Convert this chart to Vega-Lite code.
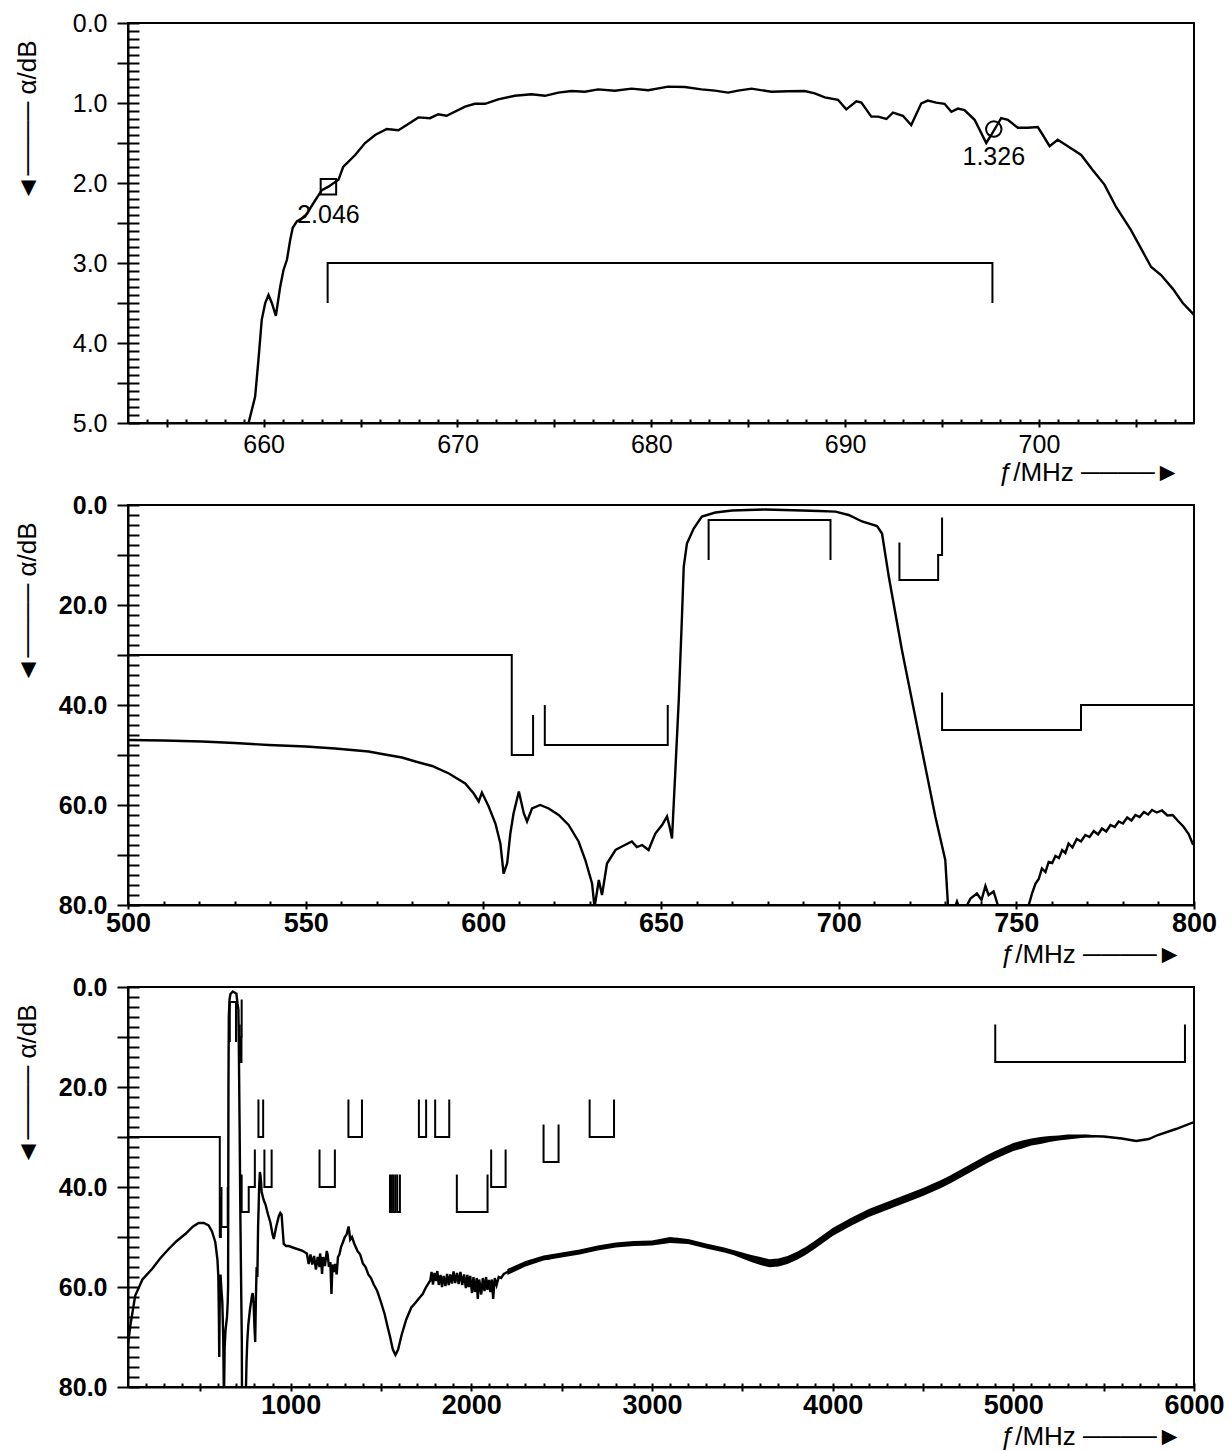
{
"$schema": "https://vega.github.io/schema/vega-lite/v6.json",
"padding": {"left": 12, "top": 10, "right": 8, "bottom": 0},
"background": "white",
"spacing": 82,
"bounds": "flush",
"config": {
  "view": {"stroke": "black", "strokeWidth": 2},
  "axis": {"grid": false, "labelFlush": false, "labelOverlap": false, "domainColor": "black", "tickColor": "black", "labelColor": "black", "titleColor": "black", "labelFont": "Liberation Sans", "titleFont": "Liberation Sans", "titleFontWeight": "normal", "tickWidth": 2, "domainWidth": 2}
},
"datasets": {
  "p1": [{"f":658.9,"a":5.6},{"f":659.22,"a":5.0},{"f":659.56,"a":4.67},{"f":659.73,"a":4.21},{"f":659.9,"a":3.71},{"f":660.08,"a":3.5},{"f":660.25,"a":3.4},{"f":660.42,"a":3.5},{"f":660.63,"a":3.66},{"f":660.85,"a":3.3},{"f":661.02,"a":3.09},{"f":661.2,"a":2.96},{"f":661.37,"a":2.71},{"f":661.5,"a":2.56},{"f":661.71,"a":2.48},{"f":662.14,"a":2.42},{"f":662.57,"a":2.25},{"f":663.0,"a":2.09},{"f":663.34,"a":2.046},{"f":663.86,"a":1.96},{"f":664.1,"a":1.8},{"f":664.72,"a":1.65},{"f":665.23,"a":1.5},{"f":665.75,"a":1.4},{"f":666.35,"a":1.325},{"f":666.95,"a":1.34},{"f":667.38,"a":1.275},{"f":667.98,"a":1.18},{"f":668.58,"a":1.19},{"f":669.01,"a":1.14},{"f":669.44,"a":1.16},{"f":670.39,"a":1.045},{"f":670.9,"a":1.01},{"f":671.42,"a":1.01},{"f":672.1,"a":0.954},{"f":672.96,"a":0.91},{"f":673.82,"a":0.89},{"f":674.51,"a":0.91},{"f":675.2,"a":0.87},{"f":675.89,"a":0.85},{"f":676.57,"a":0.86},{"f":677.26,"a":0.83},{"f":678.12,"a":0.846},{"f":678.98,"a":0.82},{"f":679.84,"a":0.84},{"f":680.87,"a":0.795},{"f":681.73,"a":0.8},{"f":682.59,"a":0.83},{"f":683.28,"a":0.846},{"f":683.96,"a":0.87},{"f":684.48,"a":0.846},{"f":685.17,"a":0.82},{"f":686.2,"a":0.86},{"f":687.06,"a":0.854},{"f":687.92,"a":0.85},{"f":688.43,"a":0.88},{"f":688.95,"a":0.93},{"f":689.63,"a":0.96},{"f":690.06,"a":1.08},{"f":690.58,"a":0.98},{"f":690.84,"a":0.995},{"f":691.35,"a":1.17},{"f":691.7,"a":1.17},{"f":692.13,"a":1.2},{"f":692.47,"a":1.12},{"f":692.98,"a":1.16},{"f":693.41,"a":1.275},{"f":693.93,"a":1.004},{"f":694.27,"a":0.97},{"f":694.7,"a":0.996},{"f":695.13,"a":1.01},{"f":695.48,"a":1.11},{"f":695.82,"a":1.07},{"f":696.16,"a":1.09},{"f":696.68,"a":1.21},{"f":697.28,"a":1.5},{"f":697.54,"a":1.4},{"f":698.05,"a":1.19},{"f":698.4,"a":1.21},{"f":698.91,"a":1.31},{"f":699.43,"a":1.31},{"f":699.94,"a":1.3},{"f":700.2,"a":1.4},{"f":700.55,"a":1.54},{"f":700.97,"a":1.46},{"f":701.49,"a":1.54},{"f":702.18,"a":1.65},{"f":702.78,"a":1.84},{"f":703.38,"a":2.02},{"f":703.98,"a":2.3},{"f":704.75,"a":2.59},{"f":705.79,"a":3.05},{"f":706.3,"a":3.15},{"f":706.9,"a":3.32},{"f":707.42,"a":3.5},{"f":707.93,"a":3.63},{"f":708.0,"a":3.65}],
  "m1": [{"s":"A","i":0,"f":663.3,"a":3.5},{"s":"A","i":1,"f":663.3,"a":3.0},{"s":"A","i":2,"f":697.6,"a":3.0},{"s":"A","i":3,"f":697.6,"a":3.5}],
  "pts": [{"f":663.34,"a":2.046,"edge":"lower","t":"2.046"},{"f":697.67,"a":1.326,"edge":"upper","t":"1.326"}],
  "p2": [{"f":500,"a":47.0},{"f":510,"a":47.1},{"f":520.8,"a":47.3},{"f":530,"a":47.6},{"f":539.6,"a":48.0},{"f":550,"a":48.3},{"f":558.3,"a":48.7},{"f":567.7,"a":49.3},{"f":571.5,"a":49.8},{"f":577.1,"a":50.5},{"f":580.9,"a":51.3},{"f":585.6,"a":52.2},{"f":590.3,"a":53.7},{"f":594.9,"a":55.7},{"f":597.3,"a":57.7},{"f":598.7,"a":59.3},{"f":599.6,"a":57.5},{"f":601.5,"a":60.3},{"f":603.4,"a":63.7},{"f":604.8,"a":67.7},{"f":605.7,"a":73.7},{"f":606.7,"a":71.7},{"f":607.6,"a":65.7},{"f":608.5,"a":61.7},{"f":610.0,"a":57.3},{"f":611.4,"a":61.7},{"f":612.3,"a":63.3},{"f":613.7,"a":60.7},{"f":616.0,"a":60.0},{"f":618.4,"a":60.7},{"f":621.2,"a":62},{"f":624,"a":64},{"f":626.8,"a":67.3},{"f":628.7,"a":71},{"f":630.6,"a":75.7},{"f":631.3,"a":80.5},{"f":632.5,"a":75},{"f":633.4,"a":78},{"f":634.8,"a":71.7},{"f":637.2,"a":69},{"f":639,"a":68.3},{"f":641.8,"a":67.3},{"f":643.2,"a":68.4},{"f":644.7,"a":68},{"f":646.5,"a":69},{"f":648.4,"a":65.7},{"f":650.3,"a":64},{"f":651.7,"a":62.3},{"f":652.4,"a":64.3},{"f":653.1,"a":66.7},{"f":654.0,"a":53.7},{"f":655.0,"a":39},{"f":655.9,"a":22.3},{"f":656.4,"a":12.3},{"f":657.3,"a":7.7},{"f":659.2,"a":4.7},{"f":661.5,"a":2.3},{"f":665.3,"a":1.5},{"f":670,"a":1.1},{"f":679.4,"a":0.9},{"f":689.7,"a":1.1},{"f":694.4,"a":1.2},{"f":699.1,"a":1.33},{"f":702.8,"a":2},{"f":706.6,"a":3.3},{"f":710.8,"a":4.2},{"f":712.2,"a":5.7},{"f":714.1,"a":14.3},{"f":717.8,"a":29},{"f":722.5,"a":45.7},{"f":727.2,"a":62.3},{"f":730.0,"a":71},{"f":730.8,"a":80.5},{"f":732.0,"a":82},{"f":733.3,"a":79.3},{"f":734.7,"a":82},{"f":737.1,"a":78.7},{"f":738.9,"a":77.7},{"f":740.2,"a":79},{"f":741.3,"a":76.2},{"f":742.2,"a":78},{"f":743.6,"a":77.3},{"f":745,"a":80.5},{"f":746,"a":83},{"f":753.0,"a":83},{"f":753.5,"a":80},{"f":754.5,"a":77.5},{"f":755.4,"a":75.7},{"f":756.3,"a":74.8},{"f":757.2,"a":72.7},{"f":758.2,"a":73.4},{"f":759.1,"a":71.4},{"f":760.1,"a":71.6},{"f":761,"a":70.2},{"f":762,"a":70.6},{"f":762.9,"a":69},{"f":763.8,"a":69.6},{"f":764.7,"a":67.7},{"f":765.8,"a":68.5},{"f":767,"a":66.8},{"f":768.2,"a":67.3},{"f":769.4,"a":66},{"f":770.6,"a":66.4},{"f":771.8,"a":65.2},{"f":773,"a":65.9},{"f":774.1,"a":64.7},{"f":775.3,"a":65.3},{"f":776.5,"a":64},{"f":777.7,"a":64.4},{"f":778.8,"a":63.3},{"f":780,"a":63.7},{"f":781.2,"a":62.5},{"f":782.4,"a":63.1},{"f":783.5,"a":62},{"f":784.7,"a":62.4},{"f":785.9,"a":61.4},{"f":787.1,"a":61.9},{"f":788.2,"a":61},{"f":789.5,"a":61.5},{"f":791,"a":61.1},{"f":792.5,"a":62.1},{"f":794,"a":62},{"f":795.5,"a":63.2},{"f":797,"a":64.3},{"f":798.5,"a":65.8},{"f":799.6,"a":67.7},{"f":800,"a":68}],
  "m23": [
    {"s":"M1","i":0,"f":100,"a":30},{"s":"M1","i":1,"f":608,"a":30},{"s":"M1","i":2,"f":608,"a":50},{"s":"M1","i":3,"f":614,"a":50},{"s":"M1","i":4,"f":614,"a":42},
    {"s":"M2","i":0,"f":617.3,"a":40},{"s":"M2","i":1,"f":617.3,"a":48},{"s":"M2","i":2,"f":651.9,"a":48},{"s":"M2","i":3,"f":651.9,"a":40},
    {"s":"M3","i":0,"f":663.4,"a":11},{"s":"M3","i":1,"f":663.4,"a":3},{"s":"M3","i":2,"f":697.7,"a":3},{"s":"M3","i":3,"f":697.7,"a":11},
    {"s":"M4","i":0,"f":717.1,"a":7.5},{"s":"M4","i":1,"f":717.1,"a":15},{"s":"M4","i":2,"f":728,"a":15},{"s":"M4","i":3,"f":728,"a":10},{"s":"M4","i":4,"f":729.1,"a":10},{"s":"M4","i":5,"f":729.1,"a":2.5},
    {"s":"M5","i":0,"f":729.1,"a":37.5},{"s":"M5","i":1,"f":729.1,"a":45},{"s":"M5","i":2,"f":768.2,"a":45},{"s":"M5","i":3,"f":768.2,"a":40},{"s":"M5","i":4,"f":802,"a":40},{"s":"M5","i":5,"f":802,"a":32.5},
    {"s":"M6","i":0,"f":822,"a":22.5},{"s":"M6","i":1,"f":822,"a":30},{"s":"M6","i":2,"f":848,"a":30},{"s":"M6","i":3,"f":848,"a":22.5},
    {"s":"M7","i":0,"f":855,"a":32.5},{"s":"M7","i":1,"f":855,"a":40},{"s":"M7","i":2,"f":895,"a":40},{"s":"M7","i":3,"f":895,"a":32.5},
    {"s":"M8","i":0,"f":1160,"a":32.5},{"s":"M8","i":1,"f":1160,"a":40},{"s":"M8","i":2,"f":1245,"a":40},{"s":"M8","i":3,"f":1245,"a":32.5},
    {"s":"M9","i":0,"f":1320,"a":22.5},{"s":"M9","i":1,"f":1320,"a":30},{"s":"M9","i":2,"f":1395,"a":30},{"s":"M9","i":3,"f":1395,"a":22.5},
    {"s":"M10a","i":0,"f":1550,"a":37.5},{"s":"M10a","i":1,"f":1550,"a":45},{"s":"M10a","i":2,"f":1560,"a":45},{"s":"M10a","i":3,"f":1560,"a":37.5},
    {"s":"M10b","i":0,"f":1568,"a":37.5},{"s":"M10b","i":1,"f":1568,"a":45},{"s":"M10b","i":2,"f":1580,"a":45},{"s":"M10b","i":3,"f":1580,"a":37.5},
    {"s":"M10c","i":0,"f":1590,"a":37.5},{"s":"M10c","i":1,"f":1590,"a":45},{"s":"M10c","i":2,"f":1605,"a":45},{"s":"M10c","i":3,"f":1605,"a":37.5},
    {"s":"M11a","i":0,"f":1710,"a":22.5},{"s":"M11a","i":1,"f":1710,"a":30},{"s":"M11a","i":2,"f":1750,"a":30},{"s":"M11a","i":3,"f":1750,"a":22.5},
    {"s":"M11b","i":0,"f":1800,"a":22.5},{"s":"M11b","i":1,"f":1800,"a":30},{"s":"M11b","i":2,"f":1878,"a":30},{"s":"M11b","i":3,"f":1878,"a":22.5},
    {"s":"M12","i":0,"f":1920,"a":37.5},{"s":"M12","i":1,"f":1920,"a":45},{"s":"M12","i":2,"f":2090,"a":45},{"s":"M12","i":3,"f":2090,"a":37.5},
    {"s":"M13","i":0,"f":2110,"a":32.5},{"s":"M13","i":1,"f":2110,"a":40},{"s":"M13","i":2,"f":2190,"a":40},{"s":"M13","i":3,"f":2190,"a":32.5},
    {"s":"M14","i":0,"f":2400,"a":27.5},{"s":"M14","i":1,"f":2400,"a":35},{"s":"M14","i":2,"f":2483,"a":35},{"s":"M14","i":3,"f":2483,"a":27.5},
    {"s":"M15","i":0,"f":2655,"a":22.5},{"s":"M15","i":1,"f":2655,"a":30},{"s":"M15","i":2,"f":2790,"a":30},{"s":"M15","i":3,"f":2790,"a":22.5},
    {"s":"M16","i":0,"f":4900,"a":7.5},{"s":"M16","i":1,"f":4900,"a":15},{"s":"M16","i":2,"f":5950,"a":15},{"s":"M16","i":3,"f":5950,"a":7.5}
  ],
  "p3": [{"f":100,"a":71.5},{"f":113,"a":67.7},{"f":140,"a":61.7},{"f":180,"a":58.5},{"f":233,"a":56.4},{"f":280,"a":54.2},{"f":325,"a":52.4},{"f":370,"a":50.8},{"f":417,"a":49.4},{"f":460,"a":47.9},{"f":491,"a":47.2},{"f":520,"a":47.2},{"f":546,"a":47.7},{"f":565,"a":48.9},{"f":583,"a":51},{"f":595,"a":54.5},{"f":600,"a":58},{"f":603,"a":66},{"f":605,"a":74},{"f":607,"a":66},{"f":609,"a":59},{"f":612,"a":57.5},{"f":617,"a":60.5},{"f":622,"a":63},{"f":627,"a":70},{"f":631,"a":83},{"f":635,"a":72},{"f":640,"a":68.5},{"f":648,"a":66},{"f":652,"a":63},{"f":654,"a":60},{"f":656,"a":20},{"f":658,"a":6},{"f":662,"a":2.5},{"f":667,"a":1.4},{"f":680,"a":0.9},{"f":694,"a":1.2},{"f":700,"a":1.3},{"f":706,"a":3.3},{"f":711,"a":4.5},{"f":714,"a":14},{"f":718,"a":29},{"f":722,"a":46},{"f":727,"a":62},{"f":730,"a":71},{"f":731,"a":83},{"f":745,"a":83},{"f":753,"a":80},{"f":756,"a":75},{"f":760,"a":71},{"f":766,"a":67.5},{"f":775,"a":64.5},{"f":785,"a":62},{"f":790,"a":61.2},{"f":795,"a":63},{"f":800,"a":68},{"f":804,"a":71},{"f":808,"a":62},{"f":812,"a":56},{"f":816,"a":58},{"f":820,"a":48},{"f":826,"a":40},{"f":830,"a":37},{"f":834,"a":38},{"f":840,"a":41},{"f":850,"a":42.5},{"f":861,"a":43.5},{"f":875,"a":45.5},{"f":888,"a":47.1},{"f":900,"a":49.5},{"f":907,"a":50.4},{"f":920,"a":48},{"f":935,"a":45.8},{"f":943,"a":45.2},{"f":950,"a":45.5},{"f":955,"a":48},{"f":962,"a":51.4},{"f":975,"a":51.8},{"f":990,"a":51.8},{"f":1020,"a":52.2},{"f":1063,"a":52.7},{"f":1090,"a":53.3},{"f":1100,"a":55.4},{"f":1110,"a":53.5},{"f":1120,"a":55.5},{"f":1130,"a":53.8},{"f":1140,"a":56.5},{"f":1150,"a":54},{"f":1160,"a":56},{"f":1163,"a":53.3},{"f":1170,"a":55},{"f":1174,"a":57.4},{"f":1180,"a":54},{"f":1190,"a":55.8},{"f":1200,"a":52.8},{"f":1205,"a":53.5},{"f":1212,"a":56},{"f":1220,"a":55},{"f":1226,"a":61.4},{"f":1232,"a":55.5},{"f":1240,"a":57},{"f":1247,"a":55.4},{"f":1255,"a":57.5},{"f":1262,"a":54},{"f":1270,"a":53.5},{"f":1279,"a":52},{"f":1290,"a":51},{"f":1300,"a":50},{"f":1310,"a":49.5},{"f":1321,"a":47.9},{"f":1330,"a":50.5},{"f":1340,"a":50},{"f":1352,"a":51.3},{"f":1370,"a":52.8},{"f":1385,"a":53.5},{"f":1400,"a":55.3},{"f":1415,"a":56},{"f":1430,"a":57.5},{"f":1445,"a":58.2},{"f":1460,"a":59.5},{"f":1479,"a":60.75},{"f":1500,"a":63},{"f":1521,"a":65.5},{"f":1537,"a":68},{"f":1552,"a":70.2},{"f":1565,"a":72.4},{"f":1580,"a":73.6},{"f":1595,"a":72.5},{"f":1615,"a":69.5},{"f":1640,"a":66.5},{"f":1668,"a":64.1},{"f":1690,"a":63.2},{"f":1710,"a":62.3},{"f":1731,"a":61.4},{"f":1750,"a":60},{"f":1773,"a":58.7},{"f":1780,"a":57},{"f":1788,"a":59.5},{"f":1796,"a":57.2},{"f":1805,"a":58.8},{"f":1812,"a":56.8},{"f":1820,"a":59.6},{"f":1830,"a":57.6},{"f":1838,"a":60},{"f":1847,"a":57.8},{"f":1857,"a":59.8},{"f":1866,"a":57.4},{"f":1875,"a":59.6},{"f":1884,"a":57.5},{"f":1893,"a":59.3},{"f":1902,"a":56.9},{"f":1911,"a":59.2},{"f":1921,"a":57.2},{"f":1930,"a":59.4},{"f":1940,"a":57},{"f":1950,"a":59.6},{"f":1960,"a":57.5},{"f":1970,"a":60.2},{"f":1978,"a":57.6},{"f":1986,"a":60},{"f":1994,"a":57.8},{"f":2004,"a":61.2},{"f":2012,"a":58},{"f":2020,"a":61},{"f":2030,"a":58.2},{"f":2036,"a":62.4},{"f":2044,"a":58.5},{"f":2055,"a":61.5},{"f":2064,"a":58.2},{"f":2073,"a":60.8},{"f":2082,"a":58},{"f":2089,"a":60.6},{"f":2098,"a":58.6},{"f":2106,"a":61},{"f":2114,"a":58.5},{"f":2121,"a":62.4},{"f":2130,"a":58.2},{"f":2140,"a":59.6},{"f":2152,"a":58},{"f":2165,"a":58.2},{"f":2180,"a":57.4},{"f":2200,"a":57},{"f":2215,"a":56.7},{"f":2240,"a":56.2},{"f":2270,"a":55.7},{"f":2300,"a":55.35},{"f":2330,"a":54.8},{"f":2363,"a":54.7},{"f":2400,"a":54.2},{"f":2430,"a":54.3},{"f":2460,"a":53.8},{"f":2489,"a":53.7},{"f":2520,"a":53.5},{"f":2560,"a":53.2},{"f":2594,"a":53},{"f":2640,"a":52.6},{"f":2680,"a":52.4},{"f":2720,"a":52},{"f":2760,"a":51.9},{"f":2805,"a":51.6},{"f":2860,"a":51.5},{"f":2910,"a":51.3},{"f":2960,"a":51.4},{"f":3015,"a":51.2},{"f":3060,"a":50.9},{"f":3100,"a":50.6},{"f":3140,"a":50.4},{"f":3184,"a":50.8},{"f":3230,"a":51.2},{"f":3268,"a":51.6},{"f":3320,"a":52},{"f":3370,"a":52.3},{"f":3420,"a":52.8},{"f":3470,"a":53.3},{"f":3500,"a":53.7},{"f":3550,"a":54.3},{"f":3600,"a":54.8},{"f":3650,"a":55.25},{"f":3700,"a":55.1},{"f":3750,"a":54.6},{"f":3800,"a":53.8},{"f":3850,"a":52.8},{"f":3900,"a":51.6},{"f":3950,"a":50.3},{"f":4000,"a":49.0},{"f":4050,"a":48.0},{"f":4100,"a":47.0},{"f":4150,"a":46.1},{"f":4200,"a":45.2},{"f":4250,"a":44.5},{"f":4300,"a":43.8},{"f":4350,"a":43.1},{"f":4400,"a":42.4},{"f":4450,"a":41.7},{"f":4500,"a":41.0},{"f":4550,"a":40.2},{"f":4600,"a":39.4},{"f":4650,"a":38.5},{"f":4700,"a":37.5},{"f":4750,"a":36.5},{"f":4800,"a":35.5},{"f":4850,"a":34.5},{"f":4900,"a":33.6},{"f":4950,"a":32.8},{"f":5000,"a":32.0},{"f":5050,"a":31.5},{"f":5100,"a":31.0},{"f":5150,"a":30.7},{"f":5200,"a":30.4},{"f":5250,"a":30.2},{"f":5300,"a":30.0},{"f":5350,"a":29.9},{"f":5400,"a":29.8},{"f":5450,"a":29.85},{"f":5500,"a":29.9},{"f":5600,"a":30.3},{"f":5680,"a":30.8},{"f":5750,"a":30.4},{"f":5800,"a":29.6},{"f":5900,"a":28.4},{"f":6000,"a":27}],
  "b3": [{"f":2200,"lo":56.4,"hi":57.6},{"f":2300,"lo":54.8,"hi":55.9},{"f":2400,"lo":53.7,"hi":54.7},{"f":2500,"lo":53.1,"hi":54.1},{"f":2600,"lo":52.5,"hi":53.5},{"f":2700,"lo":51.7,"hi":52.7},{"f":2800,"lo":51.1,"hi":52.1},{"f":2900,"lo":50.8,"hi":51.8},{"f":3000,"lo":50.7,"hi":51.7},{"f":3100,"lo":50.0,"hi":51.2},{"f":3200,"lo":50.4,"hi":51.4},{"f":3300,"lo":51.3,"hi":52.3},{"f":3400,"lo":52.1,"hi":53.1},{"f":3450,"lo":52.6,"hi":53.6},{"f":3500,"lo":53.1,"hi":54.3},{"f":3550,"lo":53.6,"hi":55.0},{"f":3600,"lo":54.0,"hi":55.6},{"f":3650,"lo":54.45,"hi":56.05},{"f":3700,"lo":54.3,"hi":55.9},{"f":3750,"lo":53.8,"hi":55.4},{"f":3800,"lo":53.0,"hi":54.6},{"f":3850,"lo":52.0,"hi":53.6},{"f":3900,"lo":50.8,"hi":52.4},{"f":3950,"lo":49.5,"hi":51.1},{"f":4000,"lo":48.2,"hi":49.8},{"f":4050,"lo":47.2,"hi":48.8},{"f":4100,"lo":46.2,"hi":47.8},{"f":4150,"lo":45.3,"hi":46.9},{"f":4200,"lo":44.4,"hi":46.0},{"f":4250,"lo":43.7,"hi":45.3},{"f":4300,"lo":43.0,"hi":44.6},{"f":4350,"lo":42.3,"hi":43.9},{"f":4400,"lo":41.6,"hi":43.2},{"f":4450,"lo":40.9,"hi":42.5},{"f":4500,"lo":40.2,"hi":41.8},{"f":4550,"lo":39.4,"hi":41.0},{"f":4600,"lo":38.6,"hi":40.2},{"f":4650,"lo":37.7,"hi":39.3},{"f":4700,"lo":36.7,"hi":38.3},{"f":4750,"lo":35.7,"hi":37.3},{"f":4800,"lo":34.7,"hi":36.3},{"f":4850,"lo":33.7,"hi":35.3},{"f":4900,"lo":32.8,"hi":34.4},{"f":4950,"lo":32.0,"hi":33.6},{"f":5000,"lo":31.2,"hi":32.8},{"f":5050,"lo":30.7,"hi":32.3},{"f":5100,"lo":30.3,"hi":31.7},{"f":5150,"lo":30.0,"hi":31.4},{"f":5200,"lo":29.8,"hi":31.0},{"f":5250,"lo":29.7,"hi":30.7},{"f":5300,"lo":29.5,"hi":30.5},{"f":5350,"lo":29.5,"hi":30.3},{"f":5400,"lo":29.5,"hi":30.1},{"f":5450,"lo":29.65,"hi":30.05}]
},
"vconcat": [
  {
    "width": 1066, "height": 400,
    "layer": [
      {
        "data": {"name": "p1"},
        "mark": {"type": "line", "stroke": "black", "strokeWidth": 2.4, "clip": true},
        "encoding": {
          "x": {"field": "f", "type": "quantitative", "scale": {"domain": [653, 708], "nice": false, "zero": false},
            "axis": {"orient": "bottom", "values": [655,660,665,670,675,680,685,690,695,700,705], "labelExpr": "datum.value % 10 == 0 ? format(datum.value, 'd') : ''", "tickSize": 4, "labelFontSize": 25, "labelPadding": 5, "title": "ƒ/MHz ────►", "titleFontSize": 26, "titleX": 1052, "titleY": 57, "titleAlign": "right", "titleBaseline": "alphabetic"}},
          "y": {"field": "a", "type": "quantitative", "scale": {"domain": [0, 5], "reverse": true, "nice": false, "zero": false},
            "axis": {"orient": "left", "values": [0,0.5,1,1.5,2,2.5,3,3.5,4,4.5,5], "labelExpr": "datum.value % 1 == 0 ? format(datum.value, '.1f') : ''", "tickSize": 11, "labelFontSize": 25, "labelPadding": 10, "title": "◄──── α/dB", "titleFontSize": 26, "titleAngle": -90, "titleX": -101, "titleY": 17, "titleAlign": "right", "titleBaseline": "middle"}}
        }
      },
      {
        "data": {"name": "m1"},
        "mark": {"type": "line", "stroke": "black", "strokeWidth": 2, "strokeJoin": "miter", "clip": true},
        "encoding": {
          "x": {"field": "f", "type": "quantitative", "scale": {"domain": [653, 708], "nice": false, "zero": false},
            "axis": {"orient": "bottom", "values": [654,655,656,657,658,659,660,661,662,663,664,665,666,667,668,669,670,671,672,673,674,675,676,677,678,679,680,681,682,683,684,685,686,687,688,689,690,691,692,693,694,695,696,697,698,699,700,701,702,703,704,705,706,707], "offset": -4, "tickSize": 4, "labels": false, "domain": false, "title": null}},
          "y": {"field": "a", "type": "quantitative", "scale": {"domain": [0, 5], "reverse": true, "nice": false, "zero": false},
            "axis": {"orient": "left", "values": [0,0.1,0.2,0.3,0.4,0.5,0.6,0.7,0.8,0.9,1,1.1,1.2,1.3,1.4,1.5,1.6,1.7,1.8,1.9,2,2.1,2.2,2.3,2.4,2.5,2.6,2.7,2.8,2.9,3,3.1,3.2,3.3,3.4,3.5,3.6,3.7,3.8,3.9,4,4.1,4.2,4.3,4.4,4.5,4.6,4.7,4.8,4.9,5], "offset": -11, "tickSize": 11, "labels": false, "domain": false, "title": null}},
          "detail": {"field": "s"},
          "order": {"field": "i"}
        }
      },
      {
        "data": {"name": "pts"},
        "mark": {"type": "point", "stroke": "black", "strokeWidth": 2, "filled": false, "size": 240, "opacity": 1},
        "encoding": {
          "x": {"field": "f", "type": "quantitative", "axis": null},
          "y": {"field": "a", "type": "quantitative", "axis": null},
          "shape": {"field": "edge", "type": "nominal", "scale": {"domain": ["lower", "upper"], "range": ["square", "circle"]}, "legend": null}
        }
      },
      {
        "data": {"name": "pts"},
        "mark": {"type": "text", "font": "Liberation Sans", "fontSize": 25, "align": "center", "baseline": "middle", "dy": 28, "color": "black"},
        "encoding": {
          "x": {"field": "f", "type": "quantitative", "axis": null},
          "y": {"field": "a", "type": "quantitative", "axis": null},
          "text": {"field": "t"}
        }
      }
    ],
    "resolve": {"axis": {"x": "independent", "y": "independent"}}
  },
  {
    "width": 1066, "height": 400,
    "layer": [
      {
        "data": {"name": "p2"},
        "mark": {"type": "line", "stroke": "black", "strokeWidth": 2.4, "clip": true},
        "encoding": {
          "x": {"field": "f", "type": "quantitative", "scale": {"domain": [500, 800], "nice": false, "zero": false},
            "axis": {"orient": "bottom", "values": [500,550,600,650,700,750,800], "format": "d", "tickSize": 4, "labelFontSize": 27, "labelFontWeight": "bold", "labelPadding": 1, "title": "ƒ/MHz ────►", "titleFontSize": 26, "titleX": 1054, "titleY": 57, "titleAlign": "right", "titleBaseline": "alphabetic"}},
          "y": {"field": "a", "type": "quantitative", "scale": {"domain": [0, 80], "reverse": true, "nice": false, "zero": false},
            "axis": {"orient": "left", "values": [0,10,20,30,40,50,60,70,80], "labelExpr": "datum.value % 20 == 0 ? format(datum.value, '.1f') : ''", "tickSize": 11, "labelFontSize": 25, "labelFontWeight": "bold", "labelPadding": 10, "title": "◄──── α/dB", "titleFontSize": 26, "titleAngle": -90, "titleX": -101, "titleY": 17, "titleAlign": "right", "titleBaseline": "middle"}}
        }
      },
      {
        "data": {"name": "m23"},
        "mark": {"type": "line", "stroke": "black", "strokeWidth": 2, "strokeJoin": "miter", "clip": true},
        "encoding": {
          "x": {"field": "f", "type": "quantitative", "scale": {"domain": [500, 800], "nice": false, "zero": false},
            "axis": {"orient": "bottom", "values": [500,510,520,530,540,550,560,570,580,590,600,610,620,630,640,650,660,670,680,690,700,710,720,730,740,750,760,770,780,790,800], "offset": -4, "tickSize": 4, "labels": false, "domain": false, "title": null}},
          "y": {"field": "a", "type": "quantitative", "scale": {"domain": [0, 80], "reverse": true, "nice": false, "zero": false},
            "axis": {"orient": "left", "values": [0,2,4,6,8,10,12,14,16,18,20,22,24,26,28,30,32,34,36,38,40,42,44,46,48,50,52,54,56,58,60,62,64,66,68,70,72,74,76,78,80], "offset": -11, "tickSize": 11, "labels": false, "domain": false, "title": null}},
          "detail": {"field": "s"},
          "order": {"field": "i"}
        }
      }
    ],
    "resolve": {"axis": {"x": "independent", "y": "independent"}}
  },
  {
    "width": 1066, "height": 400,
    "layer": [
      {
        "data": {"name": "p3"},
        "mark": {"type": "line", "stroke": "black", "strokeWidth": 2.4, "clip": true},
        "encoding": {
          "x": {"field": "f", "type": "quantitative", "scale": {"domain": [100, 6000], "nice": false, "zero": false},
            "axis": {"orient": "bottom", "values": [500,1000,1500,2000,2500,3000,3500,4000,4500,5000,5500,6000], "labelExpr": "datum.value % 1000 == 0 ? format(datum.value, 'd') : ''", "tickSize": 4, "labelFontSize": 27, "labelFontWeight": "bold", "labelPadding": 1, "title": "ƒ/MHz ────►", "titleFontSize": 26, "titleX": 1054, "titleY": 57, "titleAlign": "right", "titleBaseline": "alphabetic"}},
          "y": {"field": "a", "type": "quantitative", "scale": {"domain": [0, 80], "reverse": true, "nice": false, "zero": false},
            "axis": {"orient": "left", "values": [0,10,20,30,40,50,60,70,80], "labelExpr": "datum.value % 20 == 0 ? format(datum.value, '.1f') : ''", "tickSize": 11, "labelFontSize": 25, "labelFontWeight": "bold", "labelPadding": 10, "title": "◄──── α/dB", "titleFontSize": 26, "titleAngle": -90, "titleX": -101, "titleY": 17, "titleAlign": "right", "titleBaseline": "middle"}}
        }
      },
      {
        "data": {"name": "b3"},
        "mark": {"type": "area", "color": "black", "opacity": 1, "clip": true},
        "encoding": {
          "x": {"field": "f", "type": "quantitative", "axis": null},
          "y": {"field": "lo", "type": "quantitative", "axis": null},
          "y2": {"field": "hi"}
        }
      },
      {
        "data": {"name": "m23"},
        "mark": {"type": "line", "stroke": "black", "strokeWidth": 2, "strokeJoin": "miter", "clip": true},
        "encoding": {
          "x": {"field": "f", "type": "quantitative", "scale": {"domain": [100, 6000], "nice": false, "zero": false},
            "axis": {"orient": "bottom", "values": [200,300,400,500,600,700,800,900,1000,1100,1200,1300,1400,1500,1600,1700,1800,1900,2000,2100,2200,2300,2400,2500,2600,2700,2800,2900,3000,3100,3200,3300,3400,3500,3600,3700,3800,3900,4000,4100,4200,4300,4400,4500,4600,4700,4800,4900,5000,5100,5200,5300,5400,5500,5600,5700,5800,5900,6000], "offset": -4, "tickSize": 4, "labels": false, "domain": false, "title": null}},
          "y": {"field": "a", "type": "quantitative", "scale": {"domain": [0, 80], "reverse": true, "nice": false, "zero": false},
            "axis": {"orient": "left", "values": [0,2,4,6,8,10,12,14,16,18,20,22,24,26,28,30,32,34,36,38,40,42,44,46,48,50,52,54,56,58,60,62,64,66,68,70,72,74,76,78,80], "offset": -11, "tickSize": 11, "labels": false, "domain": false, "title": null}},
          "detail": {"field": "s"},
          "order": {"field": "i"}
        }
      }
    ],
    "resolve": {"axis": {"x": "independent", "y": "independent"}}
  }
]
}
